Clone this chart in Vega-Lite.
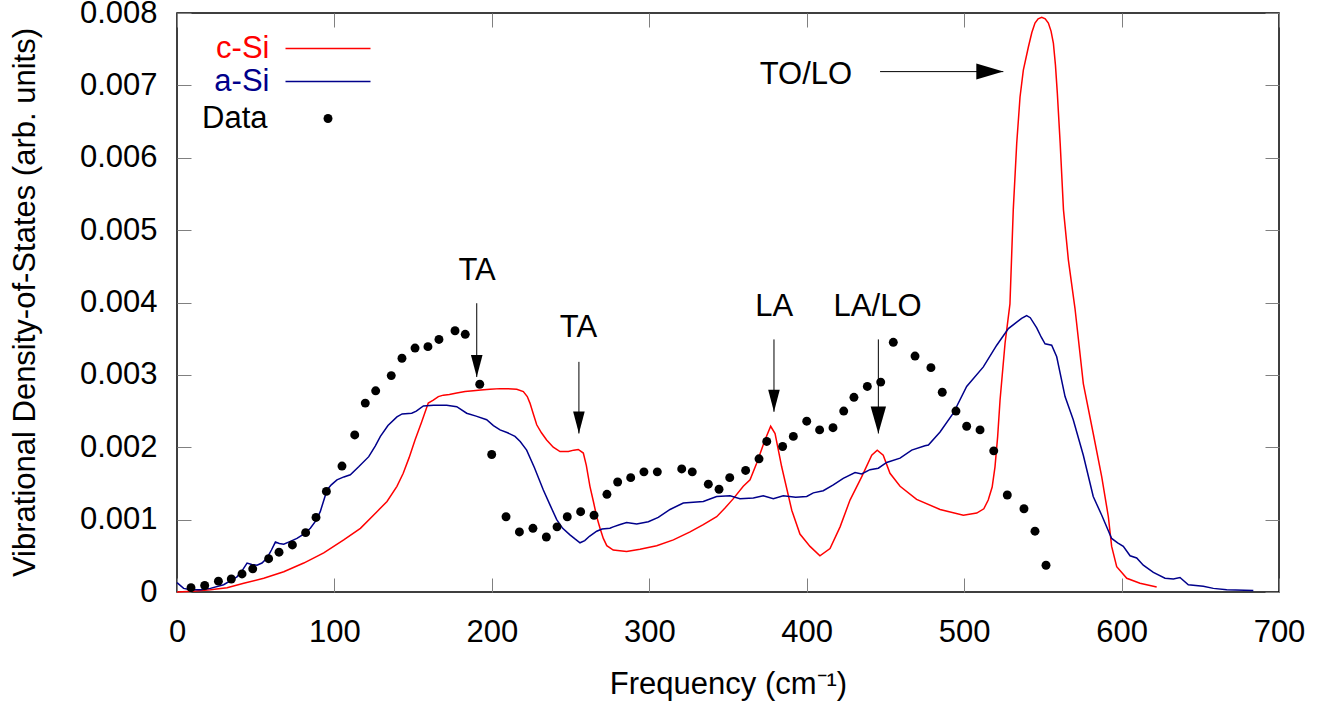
{
  "$schema": "https://vega.github.io/schema/vega-lite/v6.json",
  "width": 1102,
  "height": 579,
  "autosize": {"type": "none"},
  "padding": {"left": 177, "top": 13, "right": 51, "bottom": 113},
  "background": "white",
  "config": {
    "font": "Liberation Sans",
    "view": {"stroke": "black", "strokeWidth": 1.5},
    "axis": {"grid": false, "domain": false, "labelFont": "Liberation Sans", "labelFontSize": 31, "labelColor": "black", "titleFont": "Liberation Sans", "titleFontSize": 31, "titleFontWeight": "normal", "titleColor": "black", "tickColor": "#808080", "tickWidth": 1, "tickSize": -14, "labelFlush": false, "labelOverlap": false},
    "legend": {"labelFont": "Liberation Sans", "labelFontSize": 31, "padding": 0}
  },
  "datasets": {
    "curves": [
      {"s":"c-Si","f":0,"v":0},{"s":"c-Si","f":10,"v":0.00001},{"s":"c-Si","f":21.2,"v":0.00003},{"s":"c-Si","f":31.8,"v":0.00006},{"s":"c-Si","f":42.4,"v":0.00012},{"s":"c-Si","f":55.1,"v":0.00019},{"s":"c-Si","f":67.8,"v":0.00028},{"s":"c-Si","f":80.5,"v":0.0004},{"s":"c-Si","f":93.2,"v":0.00054},{"s":"c-Si","f":105.9,"v":0.00072},{"s":"c-Si","f":116.5,"v":0.00088},{"s":"c-Si","f":127,"v":0.00111},{"s":"c-Si","f":133.4,"v":0.00125},{"s":"c-Si","f":139.7,"v":0.00146},{"s":"c-Si","f":143.7,"v":0.00164},{"s":"c-Si","f":147.5,"v":0.00186},{"s":"c-Si","f":151.2,"v":0.0021},{"s":"c-Si","f":155.4,"v":0.00235},{"s":"c-Si","f":159.6,"v":0.00261},{"s":"c-Si","f":162.8,"v":0.00265},{"s":"c-Si","f":166,"v":0.0027},{"s":"c-Si","f":169.2,"v":0.00272},{"s":"c-Si","f":173,"v":0.00273},{"s":"c-Si","f":177.7,"v":0.00275},{"s":"c-Si","f":183,"v":0.00277},{"s":"c-Si","f":188.2,"v":0.00278},{"s":"c-Si","f":193,"v":0.00279},{"s":"c-Si","f":198.8,"v":0.0028},{"s":"c-Si","f":205.2,"v":0.00281},{"s":"c-Si","f":210,"v":0.00281},{"s":"c-Si","f":215.8,"v":0.0028},{"s":"c-Si","f":220,"v":0.00277},{"s":"c-Si","f":222.5,"v":0.0027},{"s":"c-Si","f":224.2,"v":0.00261},{"s":"c-Si","f":226.5,"v":0.00245},{"s":"c-Si","f":228.5,"v":0.00231},{"s":"c-Si","f":231.5,"v":0.0022},{"s":"c-Si","f":234.8,"v":0.0021},{"s":"c-Si","f":239,"v":0.002},{"s":"c-Si","f":243.3,"v":0.00194},{"s":"c-Si","f":248.6,"v":0.00194},{"s":"c-Si","f":252,"v":0.00196},{"s":"c-Si","f":254.9,"v":0.00197},{"s":"c-Si","f":258.1,"v":0.00192},{"s":"c-Si","f":260,"v":0.00175},{"s":"c-Si","f":262.3,"v":0.00146},{"s":"c-Si","f":264.5,"v":0.00125},{"s":"c-Si","f":266.6,"v":0.00104},{"s":"c-Si","f":268.7,"v":0.00088},{"s":"c-Si","f":270.8,"v":0.00074},{"s":"c-Si","f":273,"v":0.00064},{"s":"c-Si","f":277.1,"v":0.00058},{"s":"c-Si","f":285.6,"v":0.00056},{"s":"c-Si","f":294.1,"v":0.00059},{"s":"c-Si","f":304.7,"v":0.00064},{"s":"c-Si","f":315.3,"v":0.00072},{"s":"c-Si","f":325.9,"v":0.00083},{"s":"c-Si","f":334.3,"v":0.00093},{"s":"c-Si","f":342.8,"v":0.00104},{"s":"c-Si","f":348.1,"v":0.00116},{"s":"c-Si","f":353.4,"v":0.00129},{"s":"c-Si","f":359.7,"v":0.00146},{"s":"c-Si","f":364,"v":0.00155},{"s":"c-Si","f":368.2,"v":0.00178},{"s":"c-Si","f":373.5,"v":0.0021},{"s":"c-Si","f":377.1,"v":0.00229},{"s":"c-Si","f":379.9,"v":0.00219},{"s":"c-Si","f":384.1,"v":0.00173},{"s":"c-Si","f":390.5,"v":0.00113},{"s":"c-Si","f":395.7,"v":0.0008},{"s":"c-Si","f":402.1,"v":0.00063},{"s":"c-Si","f":408.4,"v":0.0005},{"s":"c-Si","f":414.8,"v":0.0006},{"s":"c-Si","f":421.2,"v":0.0009},{"s":"c-Si","f":427.5,"v":0.00127},{"s":"c-Si","f":434.9,"v":0.00159},{"s":"c-Si","f":441.3,"v":0.00189},{"s":"c-Si","f":444.8,"v":0.00196},{"s":"c-Si","f":448.6,"v":0.00189},{"s":"c-Si","f":452.9,"v":0.00164},{"s":"c-Si","f":459.3,"v":0.00146},{"s":"c-Si","f":469.8,"v":0.00128},{"s":"c-Si","f":484.7,"v":0.00114},{"s":"c-Si","f":499.5,"v":0.00106},{"s":"c-Si","f":508,"v":0.00109},{"s":"c-Si","f":512.5,"v":0.00115},{"s":"c-Si","f":515.3,"v":0.00127},{"s":"c-Si","f":517.8,"v":0.00145},{"s":"c-Si","f":519.6,"v":0.00173},{"s":"c-Si","f":521.3,"v":0.00215},{"s":"c-Si","f":522.8,"v":0.00265},{"s":"c-Si","f":526,"v":0.00344},{"s":"c-Si","f":529.1,"v":0.00398},{"s":"c-Si","f":531.2,"v":0.00528},{"s":"c-Si","f":533.4,"v":0.0062},{"s":"c-Si","f":535.5,"v":0.00684},{"s":"c-Si","f":537.6,"v":0.00721},{"s":"c-Si","f":540.8,"v":0.00753},{"s":"c-Si","f":543,"v":0.00773},{"s":"c-Si","f":545,"v":0.00786},{"s":"c-Si","f":547,"v":0.00792},{"s":"c-Si","f":549.3,"v":0.00794},{"s":"c-Si","f":551.5,"v":0.00792},{"s":"c-Si","f":553.5,"v":0.00786},{"s":"c-Si","f":555.2,"v":0.00775},{"s":"c-Si","f":556.7,"v":0.00758},{"s":"c-Si","f":558,"v":0.00728},{"s":"c-Si","f":559.2,"v":0.00689},{"s":"c-Si","f":561,"v":0.0062},{"s":"c-Si","f":563.1,"v":0.00528},{"s":"c-Si","f":566.2,"v":0.00459},{"s":"c-Si","f":570.4,"v":0.00392},{"s":"c-Si","f":575.7,"v":0.00288},{"s":"c-Si","f":582,"v":0.00219},{"s":"c-Si","f":587.4,"v":0.00159},{"s":"c-Si","f":591.6,"v":0.00104},{"s":"c-Si","f":593.7,"v":0.00063},{"s":"c-Si","f":596.9,"v":0.00035},{"s":"c-Si","f":603.3,"v":0.00019},{"s":"c-Si","f":611.7,"v":0.00012},{"s":"c-Si","f":622.3,"v":0.00007},
      {"s":"a-Si","f":0,"v":0.00013},{"s":"a-Si","f":4.2,"v":0.00005},{"s":"a-Si","f":8.5,"v":0.00003},{"s":"a-Si","f":15,"v":0.00003},{"s":"a-Si","f":21.2,"v":0.00005},{"s":"a-Si","f":29.6,"v":0.0001},{"s":"a-Si","f":38.1,"v":0.00021},{"s":"a-Si","f":41.5,"v":0.0003},{"s":"a-Si","f":44.5,"v":0.0004},{"s":"a-Si","f":47.5,"v":0.00038},{"s":"a-Si","f":50.8,"v":0.00037},{"s":"a-Si","f":54,"v":0.0004},{"s":"a-Si","f":57.2,"v":0.00047},{"s":"a-Si","f":60,"v":0.00058},{"s":"a-Si","f":62.5,"v":0.00069},{"s":"a-Si","f":65,"v":0.00067},{"s":"a-Si","f":67.8,"v":0.00066},{"s":"a-Si","f":72,"v":0.0007},{"s":"a-Si","f":76.2,"v":0.00074},{"s":"a-Si","f":80.5,"v":0.0008},{"s":"a-Si","f":84.7,"v":0.00088},{"s":"a-Si","f":88,"v":0.00098},{"s":"a-Si","f":91,"v":0.00111},{"s":"a-Si","f":95.3,"v":0.00141},{"s":"a-Si","f":98,"v":0.00148},{"s":"a-Si","f":101.6,"v":0.00155},{"s":"a-Si","f":106,"v":0.00159},{"s":"a-Si","f":110.1,"v":0.00162},{"s":"a-Si","f":115.4,"v":0.00173},{"s":"a-Si","f":121.8,"v":0.00187},{"s":"a-Si","f":126,"v":0.00202},{"s":"a-Si","f":129.2,"v":0.00215},{"s":"a-Si","f":134,"v":0.0023},{"s":"a-Si","f":139.7,"v":0.00242},{"s":"a-Si","f":143,"v":0.00246},{"s":"a-Si","f":149.1,"v":0.00247},{"s":"a-Si","f":152,"v":0.0025},{"s":"a-Si","f":156.5,"v":0.00257},{"s":"a-Si","f":163,"v":0.00258},{"s":"a-Si","f":171.3,"v":0.00258},{"s":"a-Si","f":177.7,"v":0.00256},{"s":"a-Si","f":184,"v":0.00247},{"s":"a-Si","f":190,"v":0.00243},{"s":"a-Si","f":196.7,"v":0.00238},{"s":"a-Si","f":201,"v":0.0023},{"s":"a-Si","f":205.2,"v":0.00224},{"s":"a-Si","f":210,"v":0.0022},{"s":"a-Si","f":214.7,"v":0.00215},{"s":"a-Si","f":218,"v":0.00208},{"s":"a-Si","f":222.1,"v":0.00196},{"s":"a-Si","f":227,"v":0.00172},{"s":"a-Si","f":232.7,"v":0.00141},{"s":"a-Si","f":237,"v":0.0012},{"s":"a-Si","f":241.2,"v":0.001},{"s":"a-Si","f":245,"v":0.00088},{"s":"a-Si","f":249.6,"v":0.00079},{"s":"a-Si","f":253,"v":0.00073},{"s":"a-Si","f":256,"v":0.00068},{"s":"a-Si","f":259,"v":0.00071},{"s":"a-Si","f":262,"v":0.00077},{"s":"a-Si","f":266.6,"v":0.00084},{"s":"a-Si","f":270,"v":0.00087},{"s":"a-Si","f":275,"v":0.00088},{"s":"a-Si","f":277.1,"v":0.0009},{"s":"a-Si","f":281,"v":0.00093},{"s":"a-Si","f":285.6,"v":0.00096},{"s":"a-Si","f":292,"v":0.00094},{"s":"a-Si","f":299.4,"v":0.00097},{"s":"a-Si","f":305.7,"v":0.00103},{"s":"a-Si","f":313.2,"v":0.00114},{"s":"a-Si","f":321.6,"v":0.00123},{"s":"a-Si","f":334.3,"v":0.00125},{"s":"a-Si","f":342.8,"v":0.00132},{"s":"a-Si","f":351.3,"v":0.00133},{"s":"a-Si","f":357.6,"v":0.00129},{"s":"a-Si","f":366.1,"v":0.0013},{"s":"a-Si","f":372.4,"v":0.00133},{"s":"a-Si","f":378.8,"v":0.00129},{"s":"a-Si","f":385.1,"v":0.00133},{"s":"a-Si","f":393,"v":0.00131},{"s":"a-Si","f":400,"v":0.00132},{"s":"a-Si","f":404.2,"v":0.00137},{"s":"a-Si","f":410.5,"v":0.0014},{"s":"a-Si","f":416.9,"v":0.00148},{"s":"a-Si","f":423.2,"v":0.00157},{"s":"a-Si","f":430.7,"v":0.00165},{"s":"a-Si","f":434.9,"v":0.00163},{"s":"a-Si","f":440.2,"v":0.00169},{"s":"a-Si","f":445.5,"v":0.00171},{"s":"a-Si","f":450.8,"v":0.00179},{"s":"a-Si","f":459.3,"v":0.00185},{"s":"a-Si","f":466.7,"v":0.00196},{"s":"a-Si","f":475.1,"v":0.00202},{"s":"a-Si","f":477.3,"v":0.00203},{"s":"a-Si","f":484.7,"v":0.00221},{"s":"a-Si","f":493.1,"v":0.00247},{"s":"a-Si","f":501.6,"v":0.00284},{"s":"a-Si","f":512.2,"v":0.00311},{"s":"a-Si","f":520.7,"v":0.00341},{"s":"a-Si","f":528.1,"v":0.00364},{"s":"a-Si","f":533.4,"v":0.00373},{"s":"a-Si","f":536.5,"v":0.00378},{"s":"a-Si","f":539.7,"v":0.00382},{"s":"a-Si","f":542,"v":0.00379},{"s":"a-Si","f":546.1,"v":0.00365},{"s":"a-Si","f":549,"v":0.00352},{"s":"a-Si","f":551.4,"v":0.00343},{"s":"a-Si","f":555.6,"v":0.00341},{"s":"a-Si","f":558.8,"v":0.00325},{"s":"a-Si","f":564.1,"v":0.0027},{"s":"a-Si","f":569.3,"v":0.00238},{"s":"a-Si","f":575.7,"v":0.00189},{"s":"a-Si","f":582,"v":0.00132},{"s":"a-Si","f":587.4,"v":0.00106},{"s":"a-Si","f":593.7,"v":0.00074},{"s":"a-Si","f":597.5,"v":0.00068},{"s":"a-Si","f":601.1,"v":0.00063},{"s":"a-Si","f":605.4,"v":0.0005},{"s":"a-Si","f":609.6,"v":0.00047},{"s":"a-Si","f":613.8,"v":0.00037},{"s":"a-Si","f":620.2,"v":0.00027},{"s":"a-Si","f":627.6,"v":0.00019},{"s":"a-Si","f":632.9,"v":0.00018},{"s":"a-Si","f":637.1,"v":0.0002},{"s":"a-Si","f":642.4,"v":0.0001},{"s":"a-Si","f":651.9,"v":0.00008},{"s":"a-Si","f":658.3,"v":0.00005},{"s":"a-Si","f":666.8,"v":0.00003},{"s":"a-Si","f":683.7,"v":0.00002}
    ],
    "measured": [
      {"f":8.9,"v":0.00006},{"f":17.6,"v":0.00009},{"f":26.3,"v":0.00015},{"f":34.5,"v":0.00018},{"f":41.3,"v":0.00025},{"f":48.1,"v":0.00032},{"f":58.2,"v":0.00046},{"f":64.8,"v":0.00055},{"f":73.3,"v":0.00065},{"f":81.7,"v":0.00082},{"f":88.3,"v":0.00103},{"f":94.9,"v":0.00139},{"f":104.8,"v":0.00174},{"f":112.9,"v":0.00217},{"f":119.6,"v":0.00261},{"f":126.2,"v":0.00278},{"f":136.1,"v":0.00299},{"f":142.9,"v":0.00323},{"f":151.2,"v":0.00337},{"f":159.4,"v":0.00339},{"f":166.4,"v":0.00349},{"f":176.6,"v":0.00361},{"f":183.1,"v":0.00356},{"f":192.3,"v":0.00287},{"f":199.9,"v":0.0019},{"f":209,"v":0.00104},{"f":217.5,"v":0.00083},{"f":226.1,"v":0.00088},{"f":234.6,"v":0.00076},{"f":241.4,"v":0.0009},{"f":247.9,"v":0.00104},{"f":256.4,"v":0.00111},{"f":264.9,"v":0.00106},{"f":273.1,"v":0.00135},{"f":279.9,"v":0.00152},{"f":288.2,"v":0.00158},{"f":296.6,"v":0.00166},{"f":305.1,"v":0.00166},{"f":320.6,"v":0.0017},{"f":327.3,"v":0.00166},{"f":337.5,"v":0.00149},{"f":344.3,"v":0.00142},{"f":351.1,"v":0.00158},{"f":361.2,"v":0.00168},{"f":369.7,"v":0.00184},{"f":374.6,"v":0.00208},{"f":384.7,"v":0.00201},{"f":391.5,"v":0.00215},{"f":400,"v":0.00236},{"f":408.2,"v":0.00224},{"f":416.7,"v":0.00227},{"f":423.5,"v":0.0025},{"f":430,"v":0.00269},{"f":438.5,"v":0.00284},{"f":447,"v":0.0029},{"f":455,"v":0.00345},{"f":468.8,"v":0.00326},{"f":478.9,"v":0.0031},{"f":486.1,"v":0.00276},{"f":494.8,"v":0.0025},{"f":501.6,"v":0.00229},{"f":510.1,"v":0.00224},{"f":518.8,"v":0.00195},{"f":527.4,"v":0.00134},{"f":538,"v":0.00115},{"f":545,"v":0.00084},{"f":552,"v":0.00037}
    ],
    "notes": [
      {"t":"TA","f":190.6,"v":0.00431},
      {"t":"TA","f":255,"v":0.00352},
      {"t":"LA","f":379.4,"v":0.00382},
      {"t":"LA/LO","f":445,"v":0.00382},
      {"t":"TO/LO","f":399.5,"v":0.00702}
    ],
    "arrows": [
      {"a":"TA1","f":190.4,"f2":190.4,"v":0.00399,"v2":0.00297},
      {"a":"TA2","f":255.3,"f2":255.3,"v":0.00318,"v2":0.00219},
      {"a":"LA","f":379.2,"f2":379.2,"v":0.00349,"v2":0.00249},
      {"a":"LA/LO","f":445.5,"f2":445.5,"v":0.00349,"v2":0.00219},
      {"a":"TO/LO","f":446.6,"f2":524.9,"v":0.00719,"v2":0.00719}
    ]
  },
  "layer": [
    {
      "data": {"name": "curves"},
      "mark": {"type": "line", "strokeWidth": 1.5, "interpolate": "linear"},
      "encoding": {
        "x": {"field": "f", "type": "quantitative", "scale": {"domain": [0, 700], "nice": false, "zero": false},
          "axis": {"orient": "bottom", "values": [0,100,200,300,400,500,600,700], "labelPadding": 63, "labelBaseline": "alphabetic", "title": "Frequency (cm⁻¹)", "titleY": 101, "titleBaseline": "alphabetic"}},
        "y": {"field": "v", "type": "quantitative", "scale": {"domain": [0, 0.008], "nice": false},
          "axis": {"orient": "left", "values": [0,0.001,0.002,0.003,0.004,0.005,0.006,0.007,0.008], "labelExpr": "datum.value == 0 ? '0' : format(datum.value, '.3f')", "labelPadding": 34, "title": "Vibrational Density-of-States (arb. units)", "titleX": -143, "titleY": 289, "titleBaseline": "alphabetic", "titleAngle": -90}},
        "color": {"field": "s", "type": "nominal", "scale": {"domain": ["c-Si", "a-Si"], "range": ["#ff0000", "#00008b"]},
          "legend": {"orient": "none", "legendX": 135.5, "legendY": 20, "title": null, "symbolType": "M-4.25,0L4.25,0", "symbolSize": 400, "symbolStrokeWidth": 1.5, "labelAlign": "right", "labelOffset": -74, "labelColor": {"expr": "datum.value == 'c-Si' ? '#ff0000' : '#00008b'"}, "rowPadding": 1}}
      }
    },
    {
      "data": {"name": "measured"},
      "mark": {"type": "point", "filled": true, "color": "black", "size": 80, "opacity": 1},
      "encoding": {
        "x": {"field": "f", "type": "quantitative", "axis": {"orient": "top", "values": [0,100,200,300,400,500,600,700], "labels": false, "title": null}},
        "y": {"field": "v", "type": "quantitative", "axis": {"orient": "right", "values": [0,0.001,0.002,0.003,0.004,0.005,0.006,0.007,0.008], "labels": false, "title": null}},
        "shape": {"datum": "Data", "type": "nominal", "scale": {"domain": ["Data"], "range": ["circle"]},
          "legend": {"orient": "none", "legendX": 135.5, "legendY": 90, "title": null, "symbolSize": 80, "symbolFillColor": "black", "symbolStrokeWidth": 0, "labelAlign": "right", "labelOffset": -76, "labelColor": "black"}}
      }
    },
    {
      "data": {"name": "arrows"},
      "mark": {"type": "rule", "color": "black", "strokeWidth": 1},
      "encoding": {
        "x": {"field": "f", "type": "quantitative", "axis": null},
        "x2": {"field": "f2"},
        "y": {"field": "v", "type": "quantitative", "axis": null},
        "y2": {"field": "v2"}
      }
    },
    {
      "data": {"name": "arrows"},
      "transform": [{"filter": "datum.a == 'TA1' || datum.a == 'TA2' || datum.a == 'LA'"}],
      "mark": {"type": "point", "shape": "M-0.58,-2.2L0.58,-2.2L0,0Z", "filled": true, "color": "black", "size": 400, "opacity": 1, "strokeWidth": 0},
      "encoding": {
        "x": {"field": "f2", "type": "quantitative", "axis": null},
        "y": {"field": "v2", "type": "quantitative", "axis": null}
      }
    },
    {
      "data": {"name": "arrows"},
      "transform": [{"filter": "datum.a == 'LA/LO'"}],
      "mark": {"type": "point", "shape": "M-0.77,-2.7L0.77,-2.7L0,0Z", "filled": true, "color": "black", "size": 400, "opacity": 1, "strokeWidth": 0},
      "encoding": {
        "x": {"field": "f2", "type": "quantitative", "axis": null},
        "y": {"field": "v2", "type": "quantitative", "axis": null}
      }
    },
    {
      "data": {"name": "arrows"},
      "transform": [{"filter": "datum.a == 'TO/LO'"}],
      "mark": {"type": "point", "shape": "M-2.7,-0.8L-2.7,0.8L0,0Z", "filled": true, "color": "black", "size": 400, "opacity": 1, "strokeWidth": 0},
      "encoding": {
        "x": {"field": "f2", "type": "quantitative", "axis": null},
        "y": {"field": "v2", "type": "quantitative", "axis": null}
      }
    },
    {
      "data": {"name": "notes"},
      "mark": {"type": "text", "font": "Liberation Sans", "fontSize": 31, "align": "center", "baseline": "alphabetic", "color": "black"},
      "encoding": {
        "x": {"field": "f", "type": "quantitative", "axis": null},
        "y": {"field": "v", "type": "quantitative", "axis": null},
        "text": {"field": "t"}
      }
    }
  ],
  "resolve": {"axis": {"x": "independent", "y": "independent"}}
}
